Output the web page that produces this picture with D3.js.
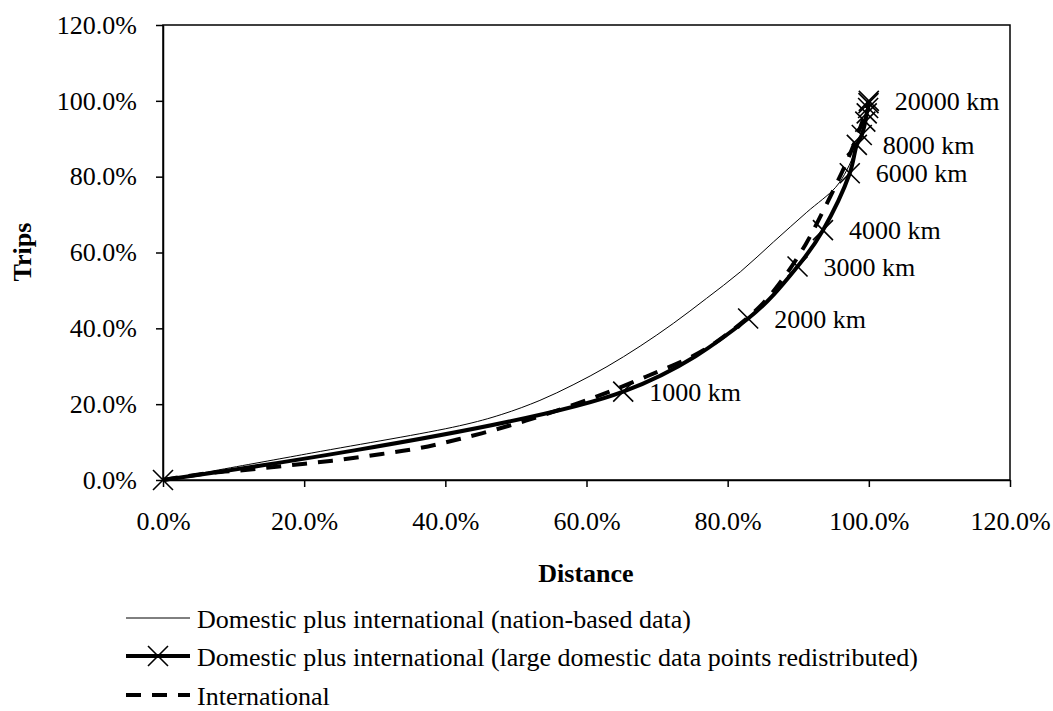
<!DOCTYPE html>
<html><head><meta charset="utf-8">
<script src="https://cdn.jsdelivr.net/npm/d3@7"></script>
<style>body{margin:0;background:#fff}svg{display:block}text{font-family:"Liberation Serif","Times New Roman",serif;fill:#000}</style>
</head><body><svg id="c" width="1053" height="711"></svg>
<script>
// Data (percent values)
const xTicks = [0, 20, 40, 60, 80, 100, 120];
const yTicks = [0, 20, 40, 60, 80, 100, 120];
const seriesNames = [
  "Domestic plus international (nation-based data)",
  "Domestic plus international (large domestic data points redistributed)",
  "International"
];
// nation-based (thin)
const nationX = [0, 21, 42, 48, 53.4, 58.1, 62.9, 67.6, 72.3, 77, 81.8, 86.5, 91.2, 95.3, 96.9, 98.1, 99.2, 100];
const nationY = [0, 7.1, 14.3, 17.3, 21.0, 25.1, 29.9, 35.3, 41.3, 47.9, 54.9, 62.8, 70.6, 77.2, 81.8, 87, 93, 100];
// redistributed (thick with markers)
const redistX = [0, 65.2, 82.9, 89.9, 93.5, 97.3, 98.3, 99.0, 99.5, 99.7, 99.9, 99.95, 100];
const redistY = [0, 23.3, 42.6, 56.3, 65.9, 80.9, 88.4, 91.0, 94.5, 96.7, 98.1, 99.4, 100];
const redistLabels = ["", "1000 km", "2000 km", "3000 km", "4000 km", "6000 km", "8000 km", "", "", "", "", "", "20000 km"];
// international (dashed)
const intlX = [0, 6, 12, 18, 24, 30, 36, 42, 49, 54, 61.4, 68.5, 76, 81, 85, 88, 91, 93, 95, 97, 98.6, 99.5, 100];
const intlY = [0, 1.7, 2.7, 3.9, 5.1, 6.6, 8.3, 10.8, 14.3, 17.2, 22.0, 27.3, 33.6, 40, 46.6, 53.5, 62, 69, 76.5, 84.5, 92, 97, 100];

const svg = d3.select("#c");
const L = 163, R = 1010, T = 25, B = 480;
const x = d3.scaleLinear().domain([0, 120]).range([L, R]);
const y = d3.scaleLinear().domain([0, 120]).range([B, T]);
const fs = 26;
const fmt = d => d.toFixed(1) + "%";

// frame
svg.append("rect").attr("x", L).attr("y", T).attr("width", R - L).attr("height", B - T)
  .attr("fill", "none").attr("stroke", "#000").attr("stroke-width", 1.5);

const xa = svg.append("g").attr("transform", `translate(0,${B})`)
  .call(d3.axisBottom(x).tickValues(xTicks).tickFormat(fmt).tickSizeInner(7).tickSizeOuter(0).tickPadding(25));
const ya = svg.append("g").attr("transform", `translate(${L},0)`)
  .call(d3.axisLeft(y).tickValues(yTicks).tickFormat(fmt).tickSizeInner(7).tickSizeOuter(0).tickPadding(19));
[xa, ya].forEach(a => {
  a.select(".domain").attr("stroke", "#000").attr("stroke-width", 1.5);
  a.selectAll(".tick line").attr("stroke", "#000").attr("stroke-width", 1.5);
  a.selectAll(".tick text").attr("font-size", fs).attr("font-family", "Liberation Serif");
});

svg.append("text").attr("x", 586).attr("y", 582).attr("text-anchor", "middle")
  .attr("font-size", fs).attr("font-weight", "bold").text("Distance");
svg.append("text").attr("transform", `translate(31,252) rotate(-90)`).attr("text-anchor", "middle")
  .attr("font-size", fs).attr("font-weight", "bold").text("Trips");

const line = d3.line().x(d => x(d[0])).y(d => y(d[1])).curve(d3.curveCatmullRom.alpha(0.5));
const zip = (a, b) => a.map((v, i) => [v, b[i]]);
const plot = svg.append("g");

plot.append("path").datum(zip(nationX, nationY)).attr("d", line)
  .attr("fill", "none").attr("stroke", "#000").attr("stroke-width", 1);
plot.append("path").datum(zip(intlX, intlY)).attr("d", line)
  .attr("fill", "none").attr("stroke", "#000").attr("stroke-width", 4).attr("stroke-dasharray", "15,11");
const rd = zip(redistX, redistY);
plot.append("path").datum(rd).attr("d", line)
  .attr("fill", "none").attr("stroke", "#000").attr("stroke-width", 4);

const m = 10;
const cross = (g, cx, cy) => {
  g.append("path").attr("d", `M${cx - m},${cy - m}L${cx + m},${cy + m}M${cx - m},${cy + m}L${cx + m},${cy - m}`)
    .attr("stroke", "#000").attr("stroke-width", 1.6).attr("fill", "none");
};
rd.forEach(d => cross(plot, x(d[0]), y(d[1])));

plot.selectAll(".lbl").data(rd.map((d, i) => ({ d, t: redistLabels[i] })).filter(o => o.t))
  .enter().append("text").attr("class", "lbl")
  .attr("x", o => x(o.d[0]) + 26).attr("y", o => y(o.d[1])).attr("dy", "0.35em")
  .attr("font-size", fs).text(o => o.t);

// legend
const lg = svg.append("g");
const ly = [618, 656, 695];
const lx0 = 126, lx1 = 190;
lg.append("line").attr("x1", lx0).attr("x2", lx1).attr("y1", ly[0]).attr("y2", ly[0]).attr("stroke", "#000").attr("stroke-width", 1);
lg.append("line").attr("x1", lx0).attr("x2", lx1).attr("y1", ly[1]).attr("y2", ly[1]).attr("stroke", "#000").attr("stroke-width", 4);
cross(lg, (lx0 + lx1) / 2, ly[1]);
lg.append("line").attr("x1", lx0).attr("x2", lx1).attr("y1", ly[2]).attr("y2", ly[2]).attr("stroke", "#000").attr("stroke-width", 4).attr("stroke-dasharray", "15,11");
seriesNames.forEach((n, i) => {
  lg.append("text").attr("x", 197).attr("y", ly[i] + 10).attr("font-size", fs).text(n);
});
</script></body></html>
